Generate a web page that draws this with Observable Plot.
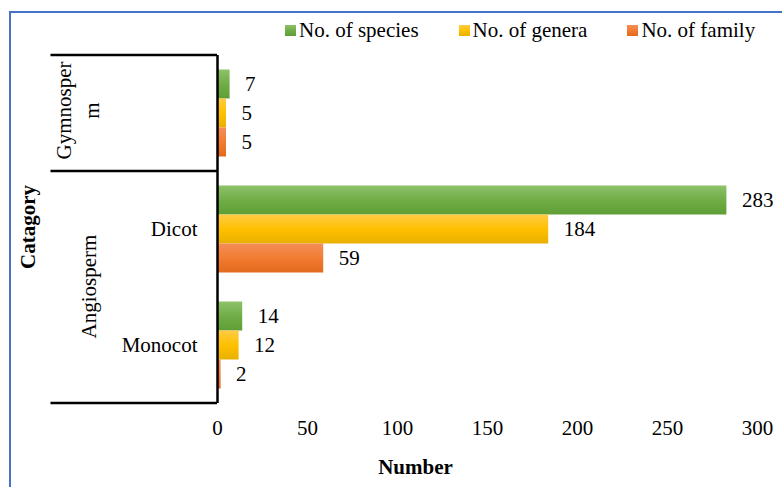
<!DOCTYPE html>
<html><head><meta charset="utf-8">
<script src="https://cdn.jsdelivr.net/npm/d3@7"></script>
<script src="https://cdn.jsdelivr.net/npm/@observablehq/plot@0.6"></script>
<style>
html,body{margin:0;padding:0;background:#fff;overflow:hidden;width:782px;height:487px;}
#wrap{position:relative;width:782px;height:487px;overflow:hidden;font-family:"Liberation Serif","Times New Roman",serif;color:#000;}
#border{position:absolute;left:9px;top:11px;width:820px;height:520px;border:2px solid #4472C4;box-sizing:border-box;}
#chart{position:absolute;left:0;top:0;}
#legend{position:absolute;left:285px;top:18px;display:flex;gap:40px;font-size:21px;line-height:24px;white-space:nowrap;}
#legend .item{display:flex;align-items:center;}
#legend .sw{display:inline-block;width:11px;height:11px;margin-right:3px;}
</style>
</head><body>
<div id="wrap"><div id="border"></div><div id="chart"></div><div id="legend"></div></div>
<script>
// ---- data ----
const categories = ["Gymnosperm", "Dicot", "Monocot"];
const seriesNames = ["No. of species", "No. of genera", "No. of family"];
const species = [7, 283, 14];
const genera = [5, 184, 12];
const family = [5, 59, 2];
const xTicks = [0, 50, 100, 150, 200, 250, 300];
const groupLabels = ["Gymnosper\nm", "Angiosperm"];
const subLabels = ["Dicot", "Monocot"];
const yTitle = "Catagory";
const xTitle = "Number";
const seriesColors = [
  ["#8DC26A", "#70AD47", "#5F9E35"],
  ["#FFCB45", "#FFC000", "#E9B000"],
  ["#F48E58", "#F27C32", "#E3691C"]
];
// ---- build ----
const keys = ["species", "genera", "family"];
const rows = categories.map((c, i) => ({category: c, species: species[i], genera: genera[i], family: family[i]}));

const legend = document.getElementById("legend");
seriesNames.forEach((name, i) => {
  const it = document.createElement("div");
  it.className = "item";
  const sw = document.createElement("span");
  sw.className = "sw";
  sw.style.background = `linear-gradient(${seriesColors[i][0]}, ${seriesColors[i][1]}, ${seriesColors[i][2]})`;
  it.appendChild(sw);
  it.appendChild(document.createTextNode(name));
  legend.appendChild(it);
});

const band = 116, barH = 29, lw = 2.5;
const leftEnd = -92.5;
const chart = Plot.plot({
  width: 782, height: 487,
  marginLeft: 217, marginRight: 25, marginTop: 55, marginBottom: 84,
  style: {fontFamily: "'Liberation Serif', 'Times New Roman', serif", fontSize: "21px", color: "#000", background: "transparent", overflow: "visible"},
  x: {domain: [0, 300], ticks: xTicks, tickSize: 0, tickPadding: 17, label: null},
  y: {domain: categories, padding: 0, axis: null},
  marks: [
    ...keys.map((k, i) => Plot.barX(rows, {x: k, y: "category", fill: `url(#grad-${k})`, insetTop: (band - barH) / 2, insetBottom: (band - barH) / 2, dy: (i - 1) * barH})),
    ...keys.map((k, i) => Plot.text(rows, {x: k, y: "category", text: k, dx: 15, dy: (i - 1) * barH, textAnchor: "start", fill: "#000"})),
    // group boundary lines on the category axis
    Plot.barX(["Gymnosperm", "Dicot"], {x1: () => leftEnd, x2: () => 0, y: d => d, insetTop: 0, insetBottom: band - lw, dy: -lw / 2, fill: "#000"}),
    Plot.barX(["Monocot"], {x1: () => leftEnd, x2: () => 0, y: d => d, insetTop: band - lw, insetBottom: 0, dy: lw / 2, fill: "#000"}),
    Plot.ruleX([0], {stroke: "#000", strokeWidth: lw}),
    Plot.text(subLabels, {y: d => d, text: d => d, frameAnchor: "left", dx: -20, textAnchor: "end", fill: "#000"}),
    Plot.text([groupLabels[0]], {y: () => categories[0], text: d => d, frameAnchor: "left", textAnchor: "middle", dx: -141, dy: -3, rotate: -90, lineHeight: 1.33, fill: "#000"}),
    Plot.text([groupLabels[1]], {y: () => categories[1], text: d => d, frameAnchor: "left", textAnchor: "middle", dx: -128, dy: band / 2 - 1, rotate: -90, fill: "#000"}),
    Plot.text([yTitle], {text: d => d, frameAnchor: "left", textAnchor: "middle", dx: -189, dy: -2.5, rotate: -90, fontWeight: "bold", fill: "#000"}),
    Plot.text([xTitle], {text: d => d, frameAnchor: "bottom", dx: -72, dy: 70, fontWeight: "bold", fill: "#000"})
  ]
});
const ns = "http://www.w3.org/2000/svg";
const defs = document.createElementNS(ns, "defs");
defs.innerHTML = keys.map((k, i) => `<linearGradient id="grad-${k}" x1="0" y1="0" x2="0" y2="1"><stop offset="0" stop-color="${seriesColors[i][0]}"/><stop offset="0.5" stop-color="${seriesColors[i][1]}"/><stop offset="1" stop-color="${seriesColors[i][2]}"/></linearGradient>`).join("");
chart.prepend(defs);
document.getElementById("chart").appendChild(chart);
</script>
</body></html>
